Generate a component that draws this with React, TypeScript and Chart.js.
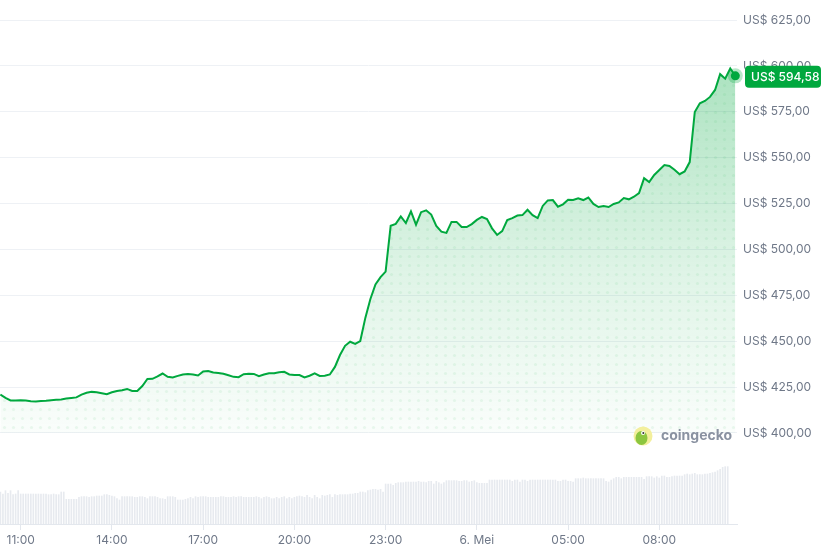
import { useEffect, useRef } from "react";
import { Chart, registerables } from "chart.js";

Chart.register(...registerables);

// ---- data ----
const startHour = 10 + 20 / 60; // 5 Mei 10:20
const priceStepMinutes = 10;
const volumeStepMinutes = 5;

const prices = [
  421.0, 419.1, 417.7, 417.7, 417.8, 417.7, 417.3, 417.2, 417.4, 417.6,
  417.9, 418.1, 418.3, 418.8, 419.1, 419.4, 420.9, 421.9, 422.4, 422.2,
  421.7, 421.1, 422.2, 422.9, 423.3, 424.0, 422.9, 422.9, 425.6, 429.4,
  429.5, 430.8, 432.4, 430.6, 430.2, 431.1, 431.9, 432.1, 431.9, 431.3,
  433.5, 433.8, 433.0, 432.7, 432.3, 431.5, 430.6, 430.4, 432.0, 432.3,
  432.2, 430.9, 431.9, 432.5, 432.6, 433.1, 433.3, 431.9, 431.6, 431.6,
  430.3, 431.2, 432.5, 431.1, 431.2, 431.9, 436.0, 442.5, 447.5, 449.7,
  448.5, 450.1, 462.7, 473.0, 480.9, 484.9, 487.9, 512.9, 513.9, 518.0,
  514.4, 520.7, 513.5, 520.3, 521.3, 519.0, 512.8, 509.7, 509.0, 515.0,
  515.0, 512.2, 512.2, 513.8, 516.1, 517.7, 516.6, 511.5, 507.9, 510.0,
  516.0, 517.1, 518.5, 518.7, 521.6, 518.7, 517.1, 523.7, 526.7, 526.9,
  523.3, 524.6, 527.1, 526.9, 527.8, 526.9, 528.3, 524.8, 523.1, 523.7,
  523.1, 524.8, 525.6, 528.0, 527.3, 528.7, 530.7, 538.8, 536.7, 540.6,
  543.3, 546.0, 545.5, 543.4, 541.0, 542.5, 547.6, 574.9, 579.6, 580.9,
  583.1, 586.9, 595.5, 593.0, 598.6, 594.58,
];

// volume (millions USD, 5-minute bars)
const volumes = [
  48, 45, 50, 46, 50, 44, 45, 50,
  45, 45, 45, 45, 45, 45, 45, 45, 45, 45, 45, 44, 44, 45, 44, 44, 48,
  48,
  37, 37, 37, 37, 37,
  40, 41, 41, 41, 40, 41, 41, 42,
  42, 42, 44, 44, 43, 42, 41, 38,
  36, 41, 41, 41, 41, 41, 40, 40, 41, 41, 40, 38, 41, 41, 41, 40, 38, 38, 37, 41, 41, 41, 40,
  36, 36, 36, 37,
  38, 40, 38, 41, 40, 41, 41, 41, 40, 40, 40, 40, 40, 41, 41, 40, 40, 40, 41, 40,
  41, 41, 40, 40, 40, 40, 40, 41, 40, 38, 40, 41, 40, 38, 38, 40, 38, 40, 41, 38,
  40, 38, 40, 41, 42, 41, 40, 43, 40, 38, 43, 40, 38, 43, 42, 43, 44, 40,
  44, 43, 44, 44, 44, 44, 45, 45,
  46, 46, 48, 48, 47,
  50, 51, 52, 52, 51, 52, 48,
  60, 60, 60, 58, 61, 62, 62, 62, 63, 63, 63, 63, 63, 64,
  63, 63, 62, 64, 64, 60, 64, 62, 60, 62, 65, 65, 65, 65, 65, 64, 64, 65, 65, 63, 64, 65, 62,
  61, 61, 61, 61,
  66, 66, 66, 66, 66, 66, 66, 66, 66, 64, 66, 66, 63, 66, 66, 64,
  66, 66, 66, 66, 66, 66, 66, 66, 66, 66, 66, 64, 64, 66, 66,
  64, 64, 63,
  68, 68, 68, 69, 68, 68, 68, 68, 68, 68, 68, 68,
  64, 63, 66,
  68, 70, 70, 68, 70, 70, 70, 70, 70, 70, 70, 70, 67,
  71, 71, 71, 69, 71, 69,
  72, 72, 70, 70, 71, 72,
  72, 72, 72, 74, 75, 74,
  75, 76, 74, 74, 74,
  75, 75, 76, 77, 78,
  80, 82, 85, 86, 86,
];

// hours since 5 Mei 00:00; 26 = 6 Mei 02:00 (shown as the date)
const xTickHours = [11, 14, 17, 20, 23, 26, 29, 32];
const xTickLabels = ["11:00", "14:00", "17:00", "20:00", "23:00", "6. Mei", "05:00", "08:00"];
const yTickValues = [400, 425, 450, 475, 500, 525, 550, 575, 600, 625];
const lastPriceLabel = "US$ 594,58";

const GREEN = "#00a83e";
const AXIS_TEXT = "#6f7888";
const GRID = "#eef1f5";

function formatPrice(v: number) {
  return "US$ " + v.toFixed(2).replace(".", ",");
}

const overlayPlugin = {
  id: "overlay",
  afterDraw(chart: any) {
    const ctx: CanvasRenderingContext2D = chart.ctx;
    const meta = chart.getDatasetMeta(0);
    const pt = meta.data[meta.data.length - 1];
    if (!pt) return;
    const { x, y } = pt;
    const area = chart.chartArea;
    ctx.save();
    // end dot
    ctx.beginPath();
    ctx.arc(x, y, 7.5, 0, Math.PI * 2);
    ctx.fillStyle = "rgba(0,168,62,0.28)";
    ctx.fill();
    ctx.beginPath();
    ctx.arc(x, y, 4.5, 0, Math.PI * 2);
    ctx.fillStyle = GREEN;
    ctx.fill();
    // price label
    const lx = area.right + 8;
    const lw = 76;
    const lh = 22;
    ctx.beginPath();
    (ctx as any).roundRect(lx, y - lh / 2 + 1, lw, lh, 4);
    ctx.fillStyle = GREEN;
    ctx.fill();
    ctx.font = "500 12px Inter";
    ctx.fillStyle = "#ffffff";
    ctx.textBaseline = "middle";
    ctx.textAlign = "left";
    ctx.fillText(lastPriceLabel, lx + 6, y + 1.5);

    // coingecko watermark
    const yScale = chart.scales.y;
    const wy = yScale.getPixelForValue(400) + 3;
    const wx = area.right - 94;
    ctx.beginPath();
    ctx.arc(wx, wy, 9.5, 0, Math.PI * 2);
    ctx.fillStyle = "#f3ef9c";
    ctx.fill();
    ctx.beginPath();
    ctx.ellipse(wx - 1.5, wy + 2, 6, 7, 0, 0, Math.PI * 2);
    ctx.fillStyle = "#8cc63f";
    ctx.fill();
    ctx.beginPath();
    ctx.arc(wx, wy - 3, 2, 0, Math.PI * 2);
    ctx.fillStyle = "#ffffff";
    ctx.fill();
    ctx.beginPath();
    ctx.arc(wx + 0.3, wy - 3, 1, 0, Math.PI * 2);
    ctx.fillStyle = "#333";
    ctx.fill();
    ctx.font = "bold 14px Inter";
    ctx.fillStyle = "#8a92a1";
    ctx.fillText("coingecko", wx + 18, wy);
    ctx.restore();
  },
};

function makeDotPattern(): CanvasPattern | string {
  const c = document.createElement("canvas");
  c.width = 9;
  c.height = 9;
  const g = c.getContext("2d");
  if (!g) return "rgba(0,0,0,0)";
  g.fillStyle = "rgba(0,168,62,0.07)";
  g.beginPath();
  g.arc(4.5, 4.5, 1.6, 0, Math.PI * 2);
  g.fill();
  const p = g.createPattern(c, "repeat");
  return p || "rgba(0,0,0,0)";
}

export default function App() {
  const ref = useRef<HTMLCanvasElement | null>(null);

  useEffect(() => {
    if (!ref.current) return;
    Chart.defaults.font.family = "Inter, 'Noto Sans', sans-serif";

    const priceData = prices.map((p, i) => ({ x: startHour + (i * priceStepMinutes) / 60, y: p }));
    const volumeData = volumes.map((v, i) => ({ x: startHour + (i * volumeStepMinutes) / 60, y: v }));
    const pattern = makeDotPattern();

    const chart = new Chart(ref.current, {
      data: {
        datasets: [
          {
            type: "line",
            data: priceData,
            yAxisID: "y",
            borderColor: GREEN,
            borderWidth: 2,
            pointRadius: 0,
            tension: 0,
            fill: { value: 400 },
            backgroundColor: (c: any) => {
              const ch = c.chart;
              const area = ch.chartArea;
              if (!area) return "rgba(0,168,62,0.2)";
              const ys = ch.scales.y;
              const g = ch.ctx.createLinearGradient(0, ys.getPixelForValue(600), 0, ys.getPixelForValue(400));
              g.addColorStop(0, "rgba(0,168,62,0.33)");
              g.addColorStop(0.55, "rgba(0,168,62,0.13)");
              g.addColorStop(1, "rgba(0,168,62,0.02)");
              return g;
            },
            order: 1,
          } as any,
          {
            type: "line",
            data: priceData,
            yAxisID: "y",
            borderWidth: 0,
            borderColor: "rgba(0,0,0,0)",
            pointRadius: 0,
            tension: 0,
            fill: { value: 400 },
            backgroundColor: pattern,
            order: 2,
          } as any,
          {
            type: "bar",
            data: volumeData,
            yAxisID: "y2",
            backgroundColor: "#e7eaef",
            barThickness: 1,
            grouped: false,
            order: 3,
          } as any,
        ],
      },
      options: {
        animation: false,
        responsive: false,
        maintainAspectRatio: false,
        layout: { padding: 0 },
        plugins: {
          legend: { display: false },
          tooltip: { enabled: false },
          title: { display: false },
        },
        scales: {
          x: {
            type: "linear",
            offset: false,
            min: 10.32,
            max: 34.555,
            afterBuildTicks: (scale: any) => {
              scale.ticks = xTickHours.map((v) => ({ value: v }));
            },
            afterFit: (scale: any) => {
              scale.height = 27;
              scale.paddingLeft = 0;
              scale.paddingRight = 0;
            },
            ticks: {
              autoSkip: false,
              maxRotation: 0,
              padding: 3,
              color: AXIS_TEXT,
              font: { size: 12 },
              callback: (_v: any, i: number) => xTickLabels[i],
            },
            grid: {
              display: true,
              offset: false,
              drawOnChartArea: false,
              drawTicks: true,
              tickLength: 6,
              color: "#e3e7ed",
            },
            border: { display: true, color: "#e3e7ed" },
          },
          y: {
            type: "linear",
            position: "right",
            min: 350.42,
            max: 635.9,
            afterBuildTicks: (scale: any) => {
              scale.ticks = yTickValues.map((v) => ({ value: v }));
            },
            afterFit: (scale: any) => {
              scale.width = 95;
              scale.paddingTop = 0;
              scale.paddingBottom = 0;
            },
            ticks: {
              padding: 6,
              color: AXIS_TEXT,
              font: { size: 12 },
              callback: (v: any) => formatPrice(Number(v)),
            },
            grid: { color: GRID, drawTicks: false },
            border: { display: false },
          },
          y2: {
            type: "linear",
            display: false,
            min: 0,
            max: 786,
          },
        },
      },
      plugins: [overlayPlugin],
    } as any);

    return () => chart.destroy();
  }, []);

  return (
    <div style={{ position: "absolute", left: 0, top: 0, width: 832, height: 551, background: "#fff" }}>
      <canvas ref={ref} width={832} height={551} style={{ display: "block" }} />
    </div>
  );
}
